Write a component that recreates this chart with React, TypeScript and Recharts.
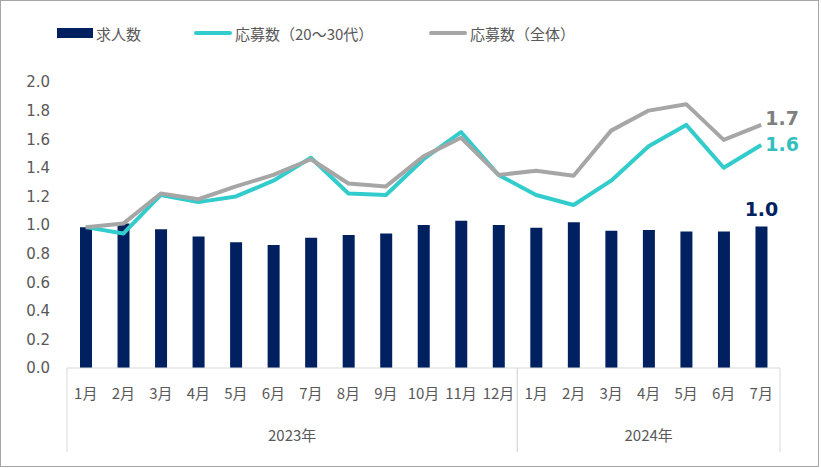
import { ComposedChart, Bar, Line, XAxis, YAxis, LabelList } from 'recharts';

// 月ラベル（2023年1月〜2024年7月）
const months = [
  '1月', '2月', '3月', '4月', '5月', '6月', '7月', '8月', '9月', '10月', '11月', '12月',
  '1月', '2月', '3月', '4月', '5月', '6月', '7月'
];
const yearLabels = ['2023年', '2024年'];
const yearSpans = [12, 7];

// 求人数
const jobs = [0.985, 1.01, 0.97, 0.92, 0.88, 0.86, 0.91, 0.93, 0.94, 1.0, 1.03, 1.0, 0.98, 1.02, 0.96, 0.965, 0.955, 0.955, 0.99];
// 応募数（20～30代）
const applicantsYoung = [0.985, 0.94, 1.21, 1.16, 1.2, 1.31, 1.47, 1.22, 1.21, 1.46, 1.65, 1.35, 1.21, 1.14, 1.31, 1.55, 1.7, 1.4, 1.56];
// 応募数（全体）
const applicantsAll = [0.985, 1.01, 1.22, 1.18, 1.27, 1.35, 1.46, 1.29, 1.27, 1.48, 1.61, 1.35, 1.38, 1.345, 1.66, 1.8, 1.845, 1.595, 1.7];

const yTicks = [0, 0.2, 0.4, 0.6, 0.8, 1.0, 1.2, 1.4, 1.6, 1.8, 2.0];

const NAVY = '#002060';
const TEAL = '#33CCCC';
const GRAY = '#A6A6A6';
const TEXT = '#595959';
const GRID = '#D9D9D9';

const W = 821;
const H = 468;
const LEFT = 67;
const RIGHT = 41;
const PLOT_BOTTOM = 368;
const BAND = (W - LEFT - RIGHT) / months.length;

const data = months.map((m, i) => ({
  id: `${i}-${m}`,
  jobs: jobs[i],
  young: applicantsYoung[i],
  all: applicantsAll[i]
}));

const LAST = months.length - 1;
const numFont = '"DejaVu Sans", Verdana, sans-serif';
const jpFont = '"Noto Sans CJK JP", "Noto Sans", sans-serif';

// group start indexes for the year row
const groupStarts = yearSpans.map((_, g) => yearSpans.slice(0, g).reduce((a, b) => a + b, 0));

function MonthTick(props: any) {
  const { x, index } = props;
  const idx = props.payload?.index ?? index;
  const g = groupStarts.indexOf(idx);
  const isGroupEnd = groupStarts.some((s, k) => s + yearSpans[k] - 1 === idx);
  return (
    <g>
      <text x={x} y={PLOT_BOTTOM + 27} textAnchor="middle" dominantBaseline="middle"
        fontSize={15} fontFamily={jpFont} fill={TEXT}>
        {months[idx]}
      </text>
      {g >= 0 && (
        <>
          <line x1={x - BAND / 2} x2={x - BAND / 2} y1={PLOT_BOTTOM} y2={PLOT_BOTTOM + 84} stroke={GRID} />
          <text x={x - BAND / 2 + (yearSpans[g] * BAND) / 2} y={PLOT_BOTTOM + 69} textAnchor="middle"
            dominantBaseline="middle" fontSize={15} fontFamily={jpFont} fill={TEXT}>
            {yearLabels[g]}
          </text>
        </>
      )}
      {isGroupEnd && (
        <line x1={x + BAND / 2} x2={x + BAND / 2} y1={PLOT_BOTTOM} y2={PLOT_BOTTOM + 84} stroke={GRID} />
      )}
    </g>
  );
}

const lastLineLabel = (color: string, dy: number) => (props: any) => {
  const { x, y, value, index } = props;
  if (index !== LAST) return null;
  return (
    <text x={x + 4} y={y + dy} dominantBaseline="middle" textAnchor="start"
      fontSize={19} fontWeight="bold" fontFamily={numFont} fill={color}>
      {Number(value).toFixed(1)}
    </text>
  );
};

const lastBarLabel = (props: any) => {
  const { x, y, width, value, index } = props;
  if (index !== LAST) return null;
  return (
    <text x={x + width / 2} y={y - 10} textAnchor="middle"
      fontSize={19} fontWeight="bold" fontFamily={numFont} fill={NAVY}>
      {Number(value).toFixed(1)}
    </text>
  );
};

const legendItems = [
  { name: '求人数', color: NAVY, kind: 'rect', left: 57 },
  { name: '応募数（20～30代）', color: TEAL, kind: 'line', left: 194 },
  { name: '応募数（全体）', color: GRAY, kind: 'line', left: 429 }
];

export default function App() {
  return (
    <div style={{ position: 'absolute', left: 0, top: 0, width: W, height: H, background: '#fff' }}>
      <ComposedChart width={W} height={H} data={data}
        margin={{ top: 82, right: RIGHT, left: 0, bottom: 16 }}>
        <XAxis dataKey="id" interval={0} tickLine={false} height={84}
          axisLine={{ stroke: GRID }} tick={<MonthTick />} />
        <YAxis domain={[0, 2]} ticks={yTicks} width={LEFT} axisLine={false} tickLine={false}
          tickMargin={11} interval={0}
          tickFormatter={(v: number) => v.toFixed(1)}
          tick={{ fontSize: 15, fontFamily: numFont, fill: TEXT }} />
        <Bar dataKey="jobs" fill={NAVY} barSize={12} isAnimationActive={false}>
          <LabelList dataKey="jobs" content={lastBarLabel} />
        </Bar>
        <Line dataKey="young" stroke={TEAL} strokeWidth={4} dot={false} strokeLinejoin="round"
          isAnimationActive={false} label={lastLineLabel('#33BFBF', 1)} />
        <Line dataKey="all" stroke={GRAY} strokeWidth={4} dot={false} strokeLinejoin="round"
          isAnimationActive={false} label={lastLineLabel('#7F7F7F', -5)} />
      </ComposedChart>

      {legendItems.map((it) => (
        <div key={it.name} style={{
          position: 'absolute', top: 22, left: it.left, height: 22, display: 'flex',
          alignItems: 'center', fontFamily: jpFont, fontSize: 15, color: TEXT, whiteSpace: 'nowrap'
        }}>
          {it.kind === 'rect'
            ? <span style={{ display: 'inline-block', width: 36, height: 10, background: it.color, marginRight: 3 }} />
            : <span style={{ display: 'inline-block', width: 38, height: 4, borderRadius: 2, background: it.color, marginRight: 3 }} />}
          {it.name}
        </div>
      ))}

      <div style={{
        position: 'absolute', left: 0, top: 0, width: 819, height: 467,
        border: '1px solid #A6A6A6', boxSizing: 'border-box', pointerEvents: 'none'
      }} />
    </div>
  );
}
